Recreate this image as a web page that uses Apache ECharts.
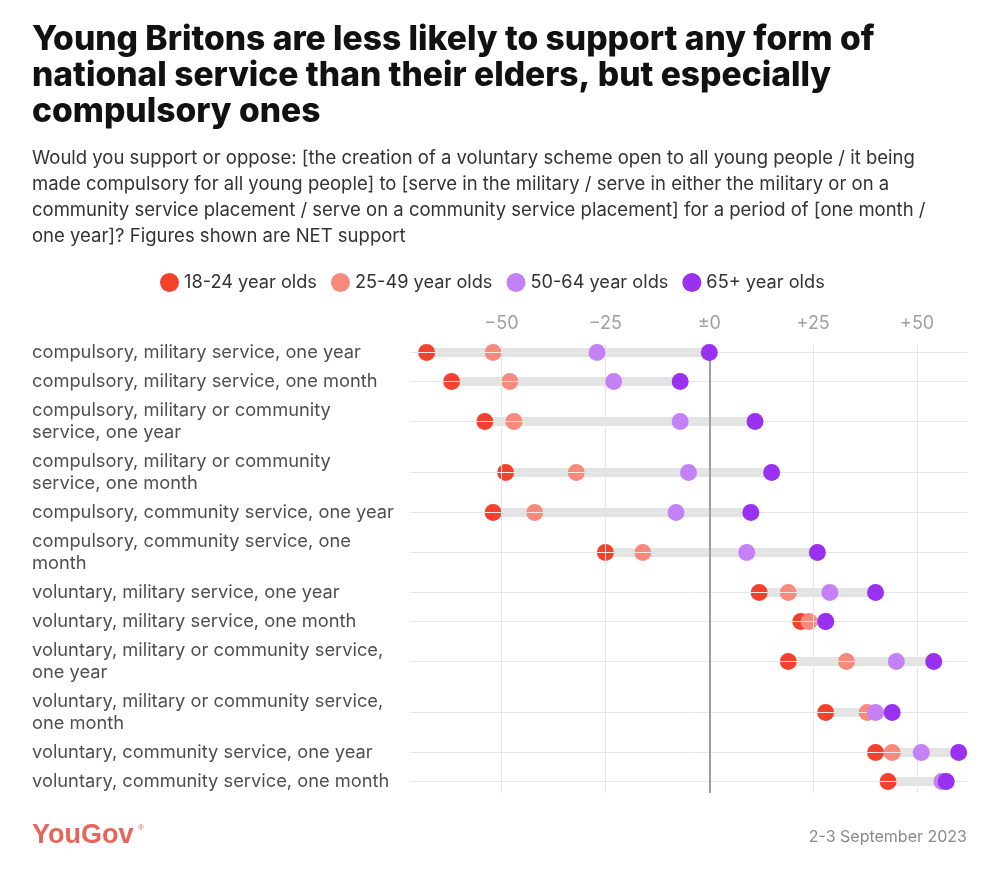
<!DOCTYPE html>
<html><head><meta charset="utf-8">
<script src="https://cdn.jsdelivr.net/npm/echarts@6/dist/echarts.min.js"></script>
<style>html,body{margin:0;padding:0;background:#fff}#c{width:1000px;height:879px}</style>
</head><body><div id="c"></div>
<script>
const categories = [
  'compulsory, military service, one year',
  'compulsory, military service, one month',
  'compulsory, military or community\nservice, one year',
  'compulsory, military or community\nservice, one month',
  'compulsory, community service, one year',
  'compulsory, community service, one\nmonth',
  'voluntary, military service, one year',
  'voluntary, military service, one month',
  'voluntary, military or community service,\none year',
  'voluntary, military or community service,\none month',
  'voluntary, community service, one year',
  'voluntary, community service, one month'
];
const age18_24  = [-68, -62, -54, -49, -52, -25, 12, 22, 19, 28, 40, 43];
const age25_49  = [-52, -48, -47, -32, -42, -16, 19, 24, 33, 38, 44, 56];
const age50_64  = [-27, -23,  -7,  -5,  -8,   9, 29, 28, 45, 40, 51, 56];
const age65plus = [  0,  -7,  11,  15,  10,  26, 40, 28, 54, 44, 60, 57];
const seriesNames = ['18-24 year olds', '25-49 year olds', '50-64 year olds', '65+ year olds'];
const tickValues = [-50, -25, 0, 25, 50];
const tickLabels = ['−50', '−25', '±0', '+25', '+50'];

const seriesData = [age18_24, age25_49, age50_64, age65plus];
const colors = ['#f4412d', '#f78a7c', '#c481f6', '#9a30f0'];
const font = 'Inter, "Noto Sans", sans-serif';

// row layout: one-line rows 29px, each extra line adds 22px
let acc = 0;
const rowPos = categories.map(c => {
  const n = c.split('\n').length;
  const h = 29 + 22 * (n - 1);
  const p = acc + h / 2;
  acc += h;
  return p;
});
const total = acc;

const chart = echarts.init(document.getElementById('c'), null, {renderer: 'canvas'});

const gridLines = [];
rowPos.forEach(p => gridLines.push({yAxis: p, label: {show: false}, lineStyle: {color: '#e6e6e6', width: 1, type: 'solid'}}));
tickValues.forEach((v, i) => gridLines.push([
  {coord: [v, 7], label: {show: true, formatter: tickLabels[i], position: 'start', distance: 12, color: '#a0a0a0', fontSize: 18, fontFamily: font},
   lineStyle: {color: v === 0 ? '#9e9e9e' : '#e6e6e6', width: v === 0 ? 2 : 1, type: 'solid'}},
  {coord: [v, total - 3]}
]));

const option = {
  animation: false,
  backgroundColor: '#fff',
  title: {
    text: 'Young Britons are less likely to support any form of\nnational service than their elders, but especially\ncompulsory ones',
    subtext: 'Would you support or oppose: [the creation of a voluntary scheme open to all young people / it being\nmade compulsory for all young people] to [serve in the military / serve in either the military or on a\ncommunity service placement / serve on a community service placement] for a period of [one month /\none year]? Figures shown are NET support',
    left: 32, top: 22, padding: 0, itemGap: 15,
    textStyle: {fontFamily: font, fontWeight: 800, fontSize: 33.6, lineHeight: 36, color: '#111'},
    subtextStyle: {fontFamily: font, fontSize: 18.5, lineHeight: 26, color: '#333'}
  },
  legend: {
    data: seriesNames, left: 155, top: 268, icon: 'circle', itemWidth: 19, itemHeight: 19, itemGap: 14,
    textStyle: {fontFamily: font, fontSize: 18.2, color: '#333'}, selectedMode: false
  },
  grid: {left: 410, right: 33, top: 338, height: total},
  xAxis: {type: 'value', min: -72, max: 62, axisLine: {show: false}, axisTick: {show: false}, axisLabel: {show: false}, splitLine: {show: false}},
  yAxis: {type: 'value', inverse: true, min: 0, max: total, axisLine: {show: false}, axisTick: {show: false}, axisLabel: {show: false}, splitLine: {show: false}},
  series: [
    {type: 'scatter', name: 'gridlines', data: [], z: 1, silent: true,
     markLine: {silent: true, symbol: 'none', animation: false, data: gridLines}},
    {type: 'custom', name: 'range', z: 2, silent: true,
     data: rowPos.map((p, i) => {
       const vals = seriesData.map(s => s[i]);
       return [Math.min(...vals), Math.max(...vals), p];
     }),
     encode: {x: [0, 1], y: 2},
     renderItem: (params, api) => {
       const a = api.coord([api.value(0), api.value(2)]);
       const b = api.coord([api.value(1), api.value(2)]);
       return {type: 'rect', shape: {x: a[0], y: a[1] - 4.5, width: b[0] - a[0], height: 9}, style: {fill: '#e3e3e3'}};
     }},
    ...seriesNames.map((name, k) => ({
      type: 'scatter', name, z: 3 + k, symbolSize: 17,
      itemStyle: {color: colors[k], opacity: 1},
      data: rowPos.map((p, i) => [seriesData[k][i], p])
    })),
    {type: 'scatter', name: 'labels', z: 10, symbolSize: 0, silent: true,
     data: rowPos.map((p, i) => ({value: [-72, p], name: categories[i]})),
     label: {show: true, position: 'left', distance: 378, align: 'left', verticalAlign: 'middle', formatter: '{b}',
             fontFamily: font, fontSize: 18.3, lineHeight: 22, color: '#222'}}
  ],
  graphic: [
    {type: 'text', left: 32, top: 822, style: {text: 'YouGov', font: 'bold 27px "Liberation Sans", Arial, sans-serif', fill: '#e8645a'}},
    {type: 'text', left: 138, top: 824, style: {text: '®', font: '8px "Liberation Sans", Arial, sans-serif', fill: '#e8645a'}},
    {type: 'text', right: 33, top: 829, style: {text: '2-3 September 2023', font: '16px ' + font, fill: '#8a8a8a', textAlign: 'right'}}
  ]
};
chart.setOption(option);
</script></body></html>
